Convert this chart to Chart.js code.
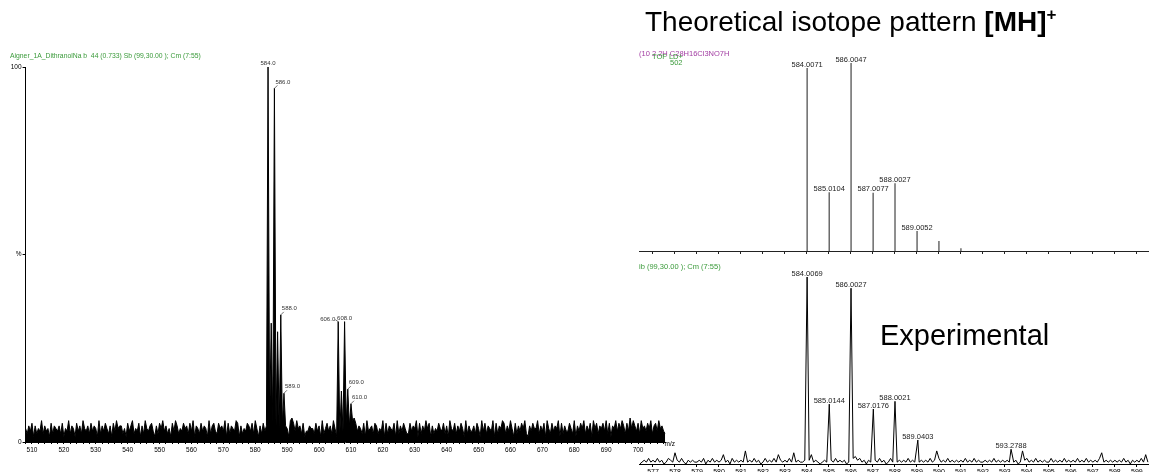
<!DOCTYPE html>
<html>
<head>
<meta charset="utf-8">
<script src="https://cdn.jsdelivr.net/npm/chart.js"></script>
<style>
html, body { margin: 0; padding: 0; background: #fff; overflow: hidden; width: 1149px; height: 472px; }
canvas { position: absolute; left: 0; top: 0; }
.big { position: absolute; white-space: nowrap; font-family: 'Liberation Sans', Arial, sans-serif; color: #000; }
</style>
</head>
<body>
<canvas id="left" width="1149" height="472"></canvas>
<canvas id="theo" width="1149" height="472"></canvas>
<canvas id="exp" width="1149" height="472"></canvas>
<div class="big" style="left:645px;top:8px;font-size:28px;line-height:28px;">Theoretical isotope pattern <b>[MH]<span style="font-size:17px;position:relative;top:-11px;">+</span></b></div>
<div class="big" style="left:880px;top:321px;font-size:29px;line-height:29px;">Experimental</div>
<script>
const FONT = "'Liberation Sans', Arial, sans-serif";
const GREEN = '#3a9a3a';
const PURPLE = '#a23ca2';

// ---- left spectrum (full scan), noise read every 0.5 m/z from 508
// digits are noise levels: level 0 = 0.8 %, each step 0.7 %
const leftStart = 508;
const leftStep = 0.5;
const leftNoise = [
  '42536152437253416254', '35261437254163527435', '26354172536425163745',
  '52416357243615274356', '31526473524163752436', '45263715426354172563',
  '26453716254376152436', '53627415263547261534', '36254178637452613354',
  '42635172463527416253', '36452716354261734526', '52437162543617253642',
  '26354716253746152436', '43625174362536417253', '35264173625437162547',
  '62537416253647215364', '47253617426354716253', '36427153647253617462',
  '54637261547364752638', '47536274536472563745', '32'
].join('');
const leftPeakMz = [584, 585, 586, 587, 588, 589, 606, 607, 608, 609, 610, 611];
const leftPeakPct = [100, 31.7, 94.3, 29.4, 33.9, 13, 32.1, 13.6, 32.1, 14.1, 10.2, 6.4];
const leftPeakText = ['584.0', '', '586.0', '', '588.0', '589.0', '606.0', '', '608.0', '609.0', '610.0', ''];
const leftLabelPlace = ['c', '', 'r', '', 'r', 'r', 'l', '', 'c', 'r', 'r', ''];
const leftTicks = [510, 520, 530, 540, 550, 560, 570, 580, 590, 600, 610, 620, 630, 640, 650, 660, 670, 680, 690, 700];

// ---- theoretical isotope pattern (sticks)
const theoMz = [584.0071, 585.0104, 586.0047, 587.0077, 588.0027, 589.0052, 590.0, 591.0];
const theoPct = [97.3, 31.2, 100, 31, 36, 10.6, 5.3, 1.5];
const theoText = ['584.0071', '585.0104', '586.0047', '587.0077', '588.0027', '589.0052', '', ''];

// ---- experimental profile, noise read every 0.1 m/z from 576.4, in %
const expStart = 576.4;
const expStep = 0.1;
const expNoise = [
  '012131',
  '2131201321', '6213102121', '1213021312', '1251203121', '2171213120',
  '1312131521', '2131612112', '0251210121', '0213121201', '0342312021',
  '0213120131', '0121213121', '0121213127', '3121312121', '2131213121',
  '1212131212', '1213120172', '3121312121', '1312121312', '1213121312',
  '1213612121', '2121312021',
  '213151'
].join('');
const expPeakMz = [584.0069, 585.0144, 586.0027, 587.0176, 588.0021, 589.0403, 593.2788];
const expPeakPct = [100, 32, 94, 29.4, 33.5, 12.8, 7.9];
const expPeakText = ['584.0069', '585.0144', '586.0027', '587.0176', '588.0021', '589.0403', '593.2788'];
const expTicks = [577, 578, 579, 580, 581, 582, 583, 584, 585, 586, 587, 588, 589, 590, 591, 592, 593, 594, 595, 596, 597, 598, 599];

// build left series: noise, with peaks replacing the matching samples
const leftPoints = leftNoise.split('').map((d, i) => ({ x: leftStart + i * leftStep, y: 0.8 + Number(d) * 0.7 }));
leftPeakMz.forEach((mz, i) => {
  const p = leftPoints.find(pt => Math.abs(pt.x - mz) < 1e-6);
  if (p) p.y = leftPeakPct[i];
});

// build theoretical sticks
const theoPoints = [];
theoMz.forEach((mz, i) => {
  theoPoints.push({ x: mz, y: 0 }, { x: mz, y: theoPct[i] }, { x: mz, y: null });
});

// build experimental profile
const expPoints = expNoise.split('').map((d, i) => ({ x: Math.round((expStart + i * expStep) * 10) / 10, y: Number(d) }))
  .filter(pt => !expPeakMz.some(mz => Math.abs(pt.x - mz) < 0.05));
expPeakMz.forEach((mz, i) => expPoints.push({ x: mz, y: expPeakPct[i] }));
expPoints.sort((a, b) => a.x - b.x);

function peakLabels(mzs, pcts, texts, places, size, color) {
  return {
    id: 'peakLabels',
    afterDatasetsDraw(chart) {
      const { ctx } = chart;
      const x = chart.scales.x, y = chart.scales.y;
      ctx.save();
      ctx.font = size + 'px ' + FONT;
      ctx.fillStyle = color;
      ctx.strokeStyle = color;
      ctx.lineWidth = 0.7;
      ctx.textBaseline = 'middle';
      mzs.forEach((mz, i) => {
        if (!texts[i]) return;
        const px = x.getPixelForValue(mz), py = y.getPixelForValue(pcts[i]);
        const place = places ? places[i] : 'c';
        if (place === 'r') {
          ctx.beginPath(); ctx.moveTo(px, py); ctx.lineTo(px + 3, py - 3); ctx.stroke();
          ctx.textAlign = 'left';
          ctx.fillText(texts[i], px + 1, py - 6.5);
        } else if (place === 'l') {
          ctx.beginPath(); ctx.moveTo(px, py); ctx.lineTo(px - 3, py - 2); ctx.stroke();
          ctx.textAlign = 'right';
          ctx.fillText(texts[i], px - 3, py - 2);
        } else {
          ctx.textAlign = 'center';
          ctx.fillText(texts[i], px, py - 3.5);
        }
      });
      ctx.restore();
    }
  };
}

// small header texts and the m/z label
const headers = {
  id: 'headers',
  afterDraw(chart) {
    const { ctx, chartArea } = chart;
    ctx.save();
    ctx.textBaseline = 'middle';
    ctx.textAlign = 'left';
    ctx.font = '6.8px ' + FONT;
    ctx.fillStyle = GREEN;
    ctx.fillText('Aigner_1A_DithranolNa b  44 (0.733) Sb (99,30.00 ); Cm (7:55)', 10, 56);
    ctx.font = '6.5px ' + FONT;
    ctx.fillStyle = '#000';
    ctx.fillText('m/z', chartArea.right - 1, chartArea.bottom + 2);
    ctx.font = '7.5px ' + FONT;
    ctx.fillStyle = PURPLE;
    ctx.fillText('(10 2.2H C28H16Cl3NO7H', 639, 53.7);
    ctx.fillStyle = GREEN;
    ctx.fillText('TOF LD+', 652, 56.7);
    ctx.fillText('502', 670, 63.3);
    ctx.fillText('ib (99,30.00 ); Cm (7:55)', 639, 266.7);
    ctx.restore();
  }
};

function setTicks(values) {
  return axis => { axis.ticks = values.map(v => ({ value: v })); };
}

// minor ticks of the left axis: every 2 m/z
const leftMinor = [];
for (let v = 508; v <= 708; v += 2) leftMinor.push(v);

const base = {
  responsive: false,
  animation: false,
  events: [],
  plugins: { legend: { display: false }, tooltip: { enabled: false } }
};

new Chart(document.getElementById('left'), {
  type: 'line',
  data: {
    datasets: [{
      data: leftPoints,
      borderColor: '#000',
      borderWidth: 1,
      backgroundColor: '#000',
      fill: 'origin',
      pointRadius: 0,
      tension: 0
    }]
  },
  options: {
    ...base,
    layout: { padding: { left: 0, top: 67, right: 1149 - 665.5, bottom: 0 } },
    scales: {
      x: {
        type: 'linear', min: 508, max: 708.6,
        afterBuildTicks: setTicks(leftMinor),
        afterFit: s => { s.height = 30; },
        border: { color: '#000', width: 1 },
        grid: { drawOnChartArea: false, tickLength: 2, color: '#000' },
        ticks: {
          autoSkip: false, maxRotation: 0, padding: 2, color: '#000',
          font: { size: 6.5, family: FONT },
          callback: v => (leftTicks.includes(v) ? String(v) : '')
        }
      },
      y: {
        min: 0, max: 100,
        afterBuildTicks: setTicks([0, 50, 100]),
        afterFit: s => { s.width = 25.6; },
        border: { color: '#000', width: 1 },
        grid: { drawOnChartArea: false, tickLength: 3, color: '#000' },
        ticks: {
          padding: 1, color: '#000', font: { size: 6.5, family: FONT },
          callback: v => (v === 50 ? '%' : String(v))
        }
      }
    }
  },
  plugins: [peakLabels(leftPeakMz, leftPeakPct, leftPeakText, leftLabelPlace, 6, '#333'), headers]
});

new Chart(document.getElementById('theo'), {
  type: 'line',
  data: {
    datasets: [{
      data: theoPoints,
      borderColor: '#444',
      borderWidth: 1.2,
      pointRadius: 0,
      spanGaps: false
    }]
  },
  options: {
    ...base,
    layout: { padding: { left: 639.8, top: 63, right: 0, bottom: 472 - 251 - 10 } },
    scales: {
      x: {
        type: 'linear', min: 576.4, max: 599.55,
        afterBuildTicks: setTicks(expTicks),
        afterFit: s => { s.height = 10; },
        border: { color: '#222', width: 1 },
        grid: { drawOnChartArea: false, tickLength: 3, color: '#222' },
        ticks: { display: false }
      },
      y: { display: false, min: 0, max: 100 }
    }
  },
  plugins: [peakLabels(theoMz, theoPct, theoText, null, 7.5, '#222')]
});

new Chart(document.getElementById('exp'), {
  type: 'line',
  data: {
    datasets: [{
      data: expPoints,
      borderColor: '#000',
      borderWidth: 1,
      pointRadius: 0,
      tension: 0
    }]
  },
  options: {
    ...base,
    layout: { padding: { left: 639.8, top: 277, right: 0, bottom: 0 } },
    scales: {
      x: {
        type: 'linear', min: 576.4, max: 599.55,
        afterBuildTicks: setTicks(expTicks),
        afterFit: s => { s.height = 8; },
        border: { color: '#000', width: 1 },
        grid: { drawOnChartArea: false, tickLength: 3, color: '#000' },
        ticks: {
          autoSkip: false, maxRotation: 0, padding: 1, color: '#000',
          font: { size: 7, family: FONT },
          callback: v => String(v)
        }
      },
      y: { display: false, min: 0, max: 100 }
    }
  },
  plugins: [peakLabels(expPeakMz, expPeakPct, expPeakText, null, 7.5, '#222')]
});
</script>
</body>
</html>
